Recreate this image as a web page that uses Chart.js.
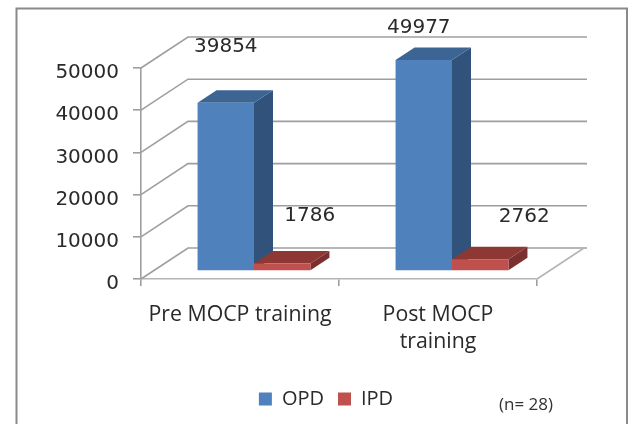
<!DOCTYPE html>
<html><head><meta charset="utf-8">
<style>html,body{margin:0;padding:0;background:#fff}canvas{display:block}</style>
<script src="https://cdn.jsdelivr.net/npm/chart.js@4"></script>
</head><body><canvas id="c" width="630" height="424"></canvas>
<script>
const categories = [['Pre MOCP training'], ['Post MOCP', 'training']];
const opdValues = [39854, 49977];
const ipdValues = [1786, 2762];
const seriesNames = ['OPD', 'IPD'];
const noteText = '(n= 28)';

const numFont = '"DejaVu Sans"';
const txtFont = '"Open Sans"';
const WALL = {dx: 47, dy: -31};
const PLANE = {dx: 14, dy: -8};
const DEPTH = {dx: 19, dy: -12.5};
const GRID = '#9e9e9e';
const FACES = [{top: '#3C6594', side: '#30527B'}, {top: '#8E3835', side: '#7A302E'}];
// hand-placed label offsets in the source chart, [dataset][category]
const LABEL_SHIFT = [[[0, -56.5], [-5, -32.5]], [[27.5, -47.5], [44, -42.5]]];

const scene = {
  id: 'scene',
  afterLayout(chart) {
    const l = chart.legend;
    l.left = 22; l.right = 630; l.top = 375;
  },
  beforeDraw(chart) {
    const c = chart.ctx;
    c.save();
    c.fillStyle = '#fff'; c.fillRect(0, 0, 630, 424);
    c.strokeStyle = '#8a8a8a'; c.lineWidth = 2;
    c.beginPath(); c.moveTo(16.5, 430); c.lineTo(16.5, 8.5); c.lineTo(627, 8.5); c.lineTo(627, 430); c.stroke();
    c.restore();
  },
  beforeDatasetsDraw(chart) {
    const c = chart.ctx, ya = chart.scales.y, a = chart.chartArea;
    c.save();
    c.strokeStyle = GRID; c.lineWidth = 1.6;
    ya.ticks.forEach(t => {
      const y = ya.getPixelForValue(t.value);
      c.beginPath(); c.moveTo(a.left, y); c.lineTo(a.left + WALL.dx, y + WALL.dy); c.lineTo(a.right + WALL.dx + 3, y + WALL.dy); c.stroke();
    });
    c.strokeStyle = '#b5b5b5';
    c.beginPath(); c.moveTo(a.right, a.bottom); c.lineTo(a.right + WALL.dx, a.bottom + WALL.dy); c.stroke();
    c.restore();

    c.save();
    c.translate(PLANE.dx, PLANE.dy);
    chart.data.datasets.forEach((ds, di) => {
      chart.getDatasetMeta(di).data.forEach(el => {
        const p = el.getProps(['x', 'y', 'base', 'width'], true);
        const L = p.x - p.width / 2, R = p.x + p.width / 2;
        c.fillStyle = FACES[di].side;
        c.beginPath(); c.moveTo(R, p.y); c.lineTo(R + DEPTH.dx, p.y + DEPTH.dy); c.lineTo(R + DEPTH.dx, p.base + DEPTH.dy); c.lineTo(R, p.base); c.closePath(); c.fill();
        c.fillStyle = FACES[di].top;
        c.beginPath(); c.moveTo(L, p.y); c.lineTo(L + DEPTH.dx, p.y + DEPTH.dy); c.lineTo(R + DEPTH.dx, p.y + DEPTH.dy); c.lineTo(R, p.y); c.closePath(); c.fill();
        el.draw(c, a);
      });
    });
    c.restore();

    c.save();
    c.fillStyle = '#2a2a2a'; c.font = '20px ' + numFont;
    c.textAlign = 'center'; c.textBaseline = 'middle';
    chart.data.datasets.forEach((ds, di) => {
      chart.getDatasetMeta(di).data.forEach((el, i) => {
        const p = el.getProps(['x', 'y'], true), s = LABEL_SHIFT[di][i];
        c.fillText(String(ds.data[i]), p.x + PLANE.dx + s[0], p.y + PLANE.dy + s[1]);
      });
    });
    c.fillStyle = '#333'; c.font = '17px ' + txtFont;
    c.fillText(noteText, 526, 405);
    c.restore();
    return false;
  }
};

new Chart(document.getElementById('c'), {
  type: 'bar',
  data: {
    labels: categories,
    datasets: [
      {label: seriesNames[0], data: opdValues, backgroundColor: '#4F81BD'},
      {label: seriesNames[1], data: ipdValues, backgroundColor: '#C0504D'}
    ]
  },
  plugins: [scene],
  options: {
    responsive: false, animation: false, devicePixelRatio: 1,
    layout: {padding: {left: 0, right: 93, top: 68, bottom: 0}},
    datasets: {bar: {categoryPercentage: 0.57, barPercentage: 1, borderWidth: 0}},
    plugins: {
      tooltip: {enabled: false},
      title: {display: false},
      legend: {
        position: 'bottom',
        labels: {boxWidth: 13, boxHeight: 13, padding: 14, color: '#2a2a2a', font: {family: txtFont, size: 20}}
      }
    },
    scales: {
      x: {
        afterFit: s => { s.height = 145 - s.chart.legend.height; },
        grid: {drawOnChartArea: false, offset: true, tickLength: 7, color: GRID, lineWidth: 1.6},
        border: {color: '#b5b5b5', width: 1.6},
        ticks: {color: '#2a2a2a', maxRotation: 0, autoSkip: false, padding: 16, font: {family: txtFont, size: 21.3, lineHeight: 1.24}}
      },
      y: {
        min: 0, max: 50000,
        afterFit: s => { s.width = 141; },
        grid: {drawOnChartArea: false, tickLength: 8, color: GRID, lineWidth: 1.6},
        border: {color: GRID, width: 1.6},
        ticks: {stepSize: 10000, color: '#2a2a2a', padding: 14, labelOffset: 5, callback: v => String(v), font: {family: numFont, size: 20}}
      }
    }
  }
});
</script></body></html>
